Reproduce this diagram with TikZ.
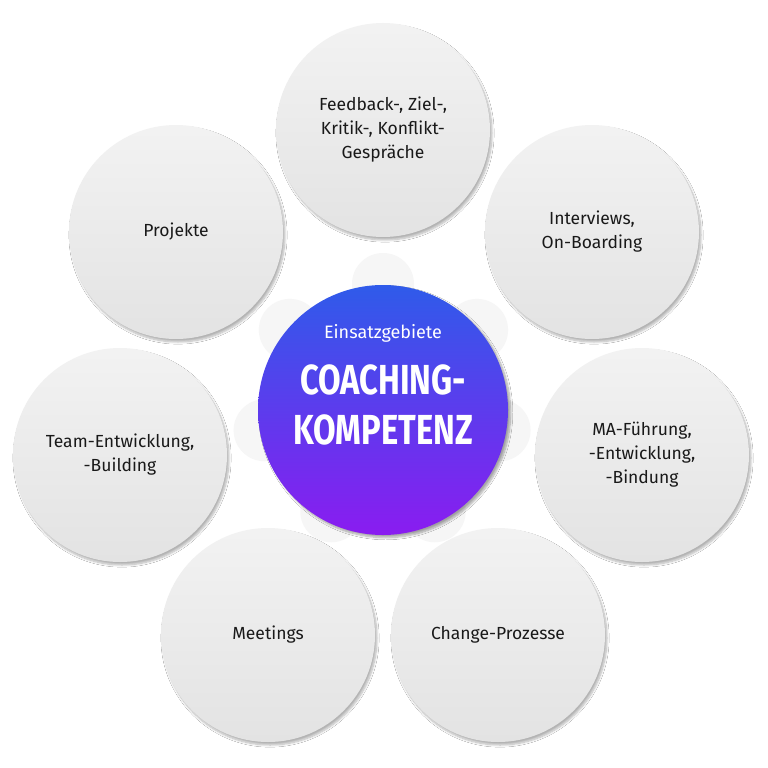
\documentclass[tikz,border=0pt]{standalone}
\usepackage{fontspec}
\setmainfont{Fira Sans}
\usetikzlibrary{shadows.blur}
\definecolor{topblue}{HTML}{2F5BEA}
\definecolor{botpurple}{HTML}{8A1CF0}
\tikzset{
 outer/.style={circle,minimum size=214pt,inner sep=0pt,top color=gray!10,bottom color=gray!22,blur shadow={shadow blur steps=8,shadow xshift=2pt,shadow yshift=-3pt,shadow opacity=30},align=center,font=\fontsize{17.5}{24}\selectfont,text=black!90},
 link/.style={circle,minimum size=62pt,inner sep=0pt,fill=gray!7}
}
\begin{document}
\begin{tikzpicture}[x=1pt,y=-1pt]
\useasboundingbox (0,0) rectangle (768,768);
\fill[white] (0,0) rectangle (768,768);
\coordinate (c) at (383,410);
\foreach \p in {(383,130),(592,232),(642,455),(498,635),(268,635),(120,455),(176,232)}{
  \path (c) -- \p node[pos=0.45,link]{};
}
\node[outer] (top) at (383,130) {Feedback-, Ziel-,\\Kritik-, Konflikt-\\Gespräche};
\node[outer] (tr) at (592,232) {Interviews,\\On-Boarding};
\node[outer] (r) at (642,455) {MA-Führung,\\-Entwicklung,\\-Bindung};
\node[outer] (br) at (498,635) {Change-Prozesse};
\node[outer] (bl) at (268,635) {Meetings};
\node[outer] (l) at (120,455) {Team-Entwicklung,\\-Building};
\node[outer] (tl) at (176,232) {Projekte};
\node[circle,minimum size=250pt,inner sep=0pt,top color=topblue,bottom color=botpurple,blur shadow={shadow blur steps=8,shadow opacity=35}] (center) at (c) {};
\node[text=white,font=\fontsize{18}{20}\selectfont] (e) at (383,333) {Einsatzgebiete};
\node[text=white,font=\bfseries\fontsize{42}{50}\selectfont,align=center,xscale=0.78] (k) at (383,405) {COACHING-\\KOMPETENZ};
\end{tikzpicture}
\end{document}
